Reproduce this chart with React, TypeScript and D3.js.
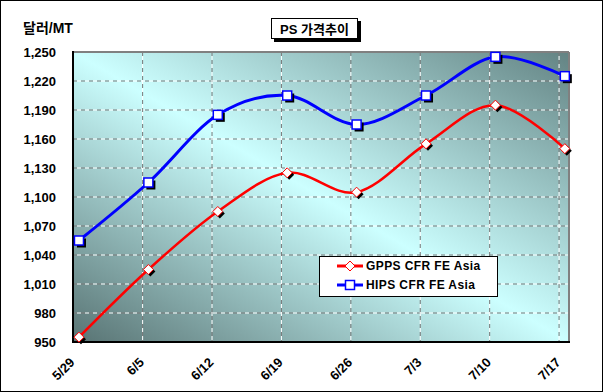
import React from "react";
import * as d3 from "d3";

const categories = ["5/29", "6/5", "6/12", "6/19", "6/26", "7/3", "7/10", "7/17"];
const gpps = [955, 1025, 1085, 1125, 1105, 1155, 1195, 1150];
const hips = [1055, 1115, 1185, 1205, 1175, 1205, 1245, 1225];
const yTicks = [950, 980, 1010, 1040, 1070, 1100, 1130, 1160, 1190, 1220, 1250];
const seriesNames = ["GPPS CFR FE Asia", "HIPS CFR FE Asia"];
const title = "PS 가격추이";
const yTitle = "달러/MT";

const W = 603, H = 392;
const L = 73, R = 569, T = 52, B = 342;
const FONT = "'Liberation Sans', Arial, 'Noto Sans CJK KR', sans-serif";

export default function App() {
  const x = d3.scaleLinear().domain([-0.086, 7.06]).range([L, R]);
  const y = d3.scaleLinear().domain([950, 1250]).range([B, T]);
  const line = d3
    .line<number>()
    .x((_, i) => x(i))
    .y((d) => y(d))
    .curve(d3.curveCardinal.tension(0));
  const gridX = categories.map((_, i) => x(i - 0.083));
  const fmt = d3.format(",");

  const diamond = (cx: number, cy: number, r: number) =>
    `M${cx},${cy - r}L${cx + r},${cy}L${cx},${cy + r}L${cx - r},${cy}Z`;

  return (
    <svg width={W} height={H} style={{ display: "block" }} fontFamily={FONT}>
      <style>{`body{margin:0}`}</style>
      <defs>
        <linearGradient id="bg" x1="0" y1="1" x2="1" y2="0">
          <stop offset="0" stopColor="#587373" />
          <stop offset="0.5" stopColor="#ccffff" />
          <stop offset="1" stopColor="#638383" />
        </linearGradient>
      </defs>
      <rect x={0} y={0} width={W} height={H} fill="#fff" />
      <rect x={0.5} y={0.5} width={W - 1} height={H - 1} fill="none" stroke="#000" strokeWidth={1} />

      {/* plot area */}
      <rect x={L} y={T} width={R - L} height={B - T} fill="url(#bg)" />
      {/* grid */}
      {yTicks.slice(1, -1).map((t) => (
        <g key={"h" + t}>
          <line x1={L} x2={R} y1={y(t)} y2={y(t)} stroke="#ffffff" strokeWidth={1} strokeDasharray="4,4" strokeDashoffset={4} />
          <line x1={L} x2={R} y1={y(t)} y2={y(t)} stroke="#7a7a7a" strokeWidth={1} strokeDasharray="4,4" />
        </g>
      ))}
      {gridX.slice(1).map((gx, i) => (
        <g key={"v" + i}>
          <line x1={gx} x2={gx} y1={T} y2={B} stroke="#ffffff" strokeWidth={1} strokeDasharray="4,4" strokeDashoffset={4} />
          <line x1={gx} x2={gx} y1={T} y2={B} stroke="#7a7a7a" strokeWidth={1} strokeDasharray="4,4" />
        </g>
      ))}
      {/* frame */}
      <line x1={L} x2={R} y1={T} y2={T} stroke="#808080" strokeWidth={2} />
      <line x1={R} x2={R} y1={T} y2={B} stroke="#808080" strokeWidth={2} />
      <line x1={L} x2={L} y1={T - 1} y2={B + 1} stroke="#000" strokeWidth={2} />
      <line x1={L} x2={R + 1} y1={B} y2={B} stroke="#000" strokeWidth={2} />

      {/* y labels */}
      {yTicks.map((t) => (
        <text key={"yl" + t} x={56} y={y(t)} dy="0.35em" textAnchor="end" fontSize={13} fontWeight="bold" fill="#000">
          {fmt(t)}
        </text>
      ))}
      {/* x labels */}
      {categories.map((c, i) => (
        <text
          key={"xl" + c}
          transform={`translate(${gridX[i] - 1},${360}) rotate(-45)`}
          textAnchor="end"
          fontSize={13}
          fontWeight="bold"
          dy="0.35em"
          fill="#000"
        >
          {c}
        </text>
      ))}

      {/* lines */}
      <path d={line(gpps) || ""} fill="none" stroke="#ff0000" strokeWidth={2.5} />
      <path d={line(hips) || ""} fill="none" stroke="#0000ff" strokeWidth={3} />

      {/* markers */}
      {gpps.map((v, i) => (
        <g key={"gm" + i}>
          <path d={diamond(x(i) + 2, y(v) + 2, 5)} fill="#000" />
          <path d={diamond(x(i), y(v), 5)} fill="#fff" stroke="#ff0000" strokeWidth={1} />
        </g>
      ))}
      {hips.map((v, i) => (
        <g key={"hm" + i}>
          <rect x={x(i) - 4.5 + 2.5} y={y(v) - 4.5 + 2.5} width={9} height={9} fill="#000" />
          <rect x={x(i) - 4.5} y={y(v) - 4.5} width={9} height={9} fill="#fff" stroke="#0000ff" strokeWidth={1.5} />
        </g>
      ))}

      {/* legend */}
      <rect x={319.5} y={256.5} width={178} height={40} fill="#fff" stroke="#000" strokeWidth={1} />
      {seriesNames.map((s, i) => {
        const ly = 266 + i * 19;
        return (
          <g key={"lg" + i}>
            <line x1={337} x2={363} y1={ly} y2={ly} stroke={i === 0 ? "#ff0000" : "#0000ff"} strokeWidth={3} />
            {i === 0 ? (
              <path d={diamond(350, ly, 5)} fill="#fff" stroke="#ff0000" strokeWidth={1} />
            ) : (
              <rect x={345.5} y={ly - 4.5} width={9} height={9} fill="#fff" stroke="#0000ff" strokeWidth={1.5} />
            )}
            <text x={366} y={ly} dy="0.36em" fontSize={12} letterSpacing={0.4} fontWeight="bold" fill="#000">
              {s}
            </text>
          </g>
        );
      })}

      {/* title */}
      <rect x={274} y={21} width={87} height={21} fill="#000" />
      <rect x={271.5} y={18.5} width={86} height={20} fill="#fff" stroke="#000" strokeWidth={1} />
      <text x={314.5} y={29} dy="0.36em" textAnchor="middle" fontSize={13} fontWeight="bold" fill="#000">
        {title}
      </text>

      {/* y title */}
      <text x={23} y={28} dy="0.36em" fontSize={14} fontWeight="bold" fill="#000">
        {yTitle}
      </text>
    </svg>
  );
}
